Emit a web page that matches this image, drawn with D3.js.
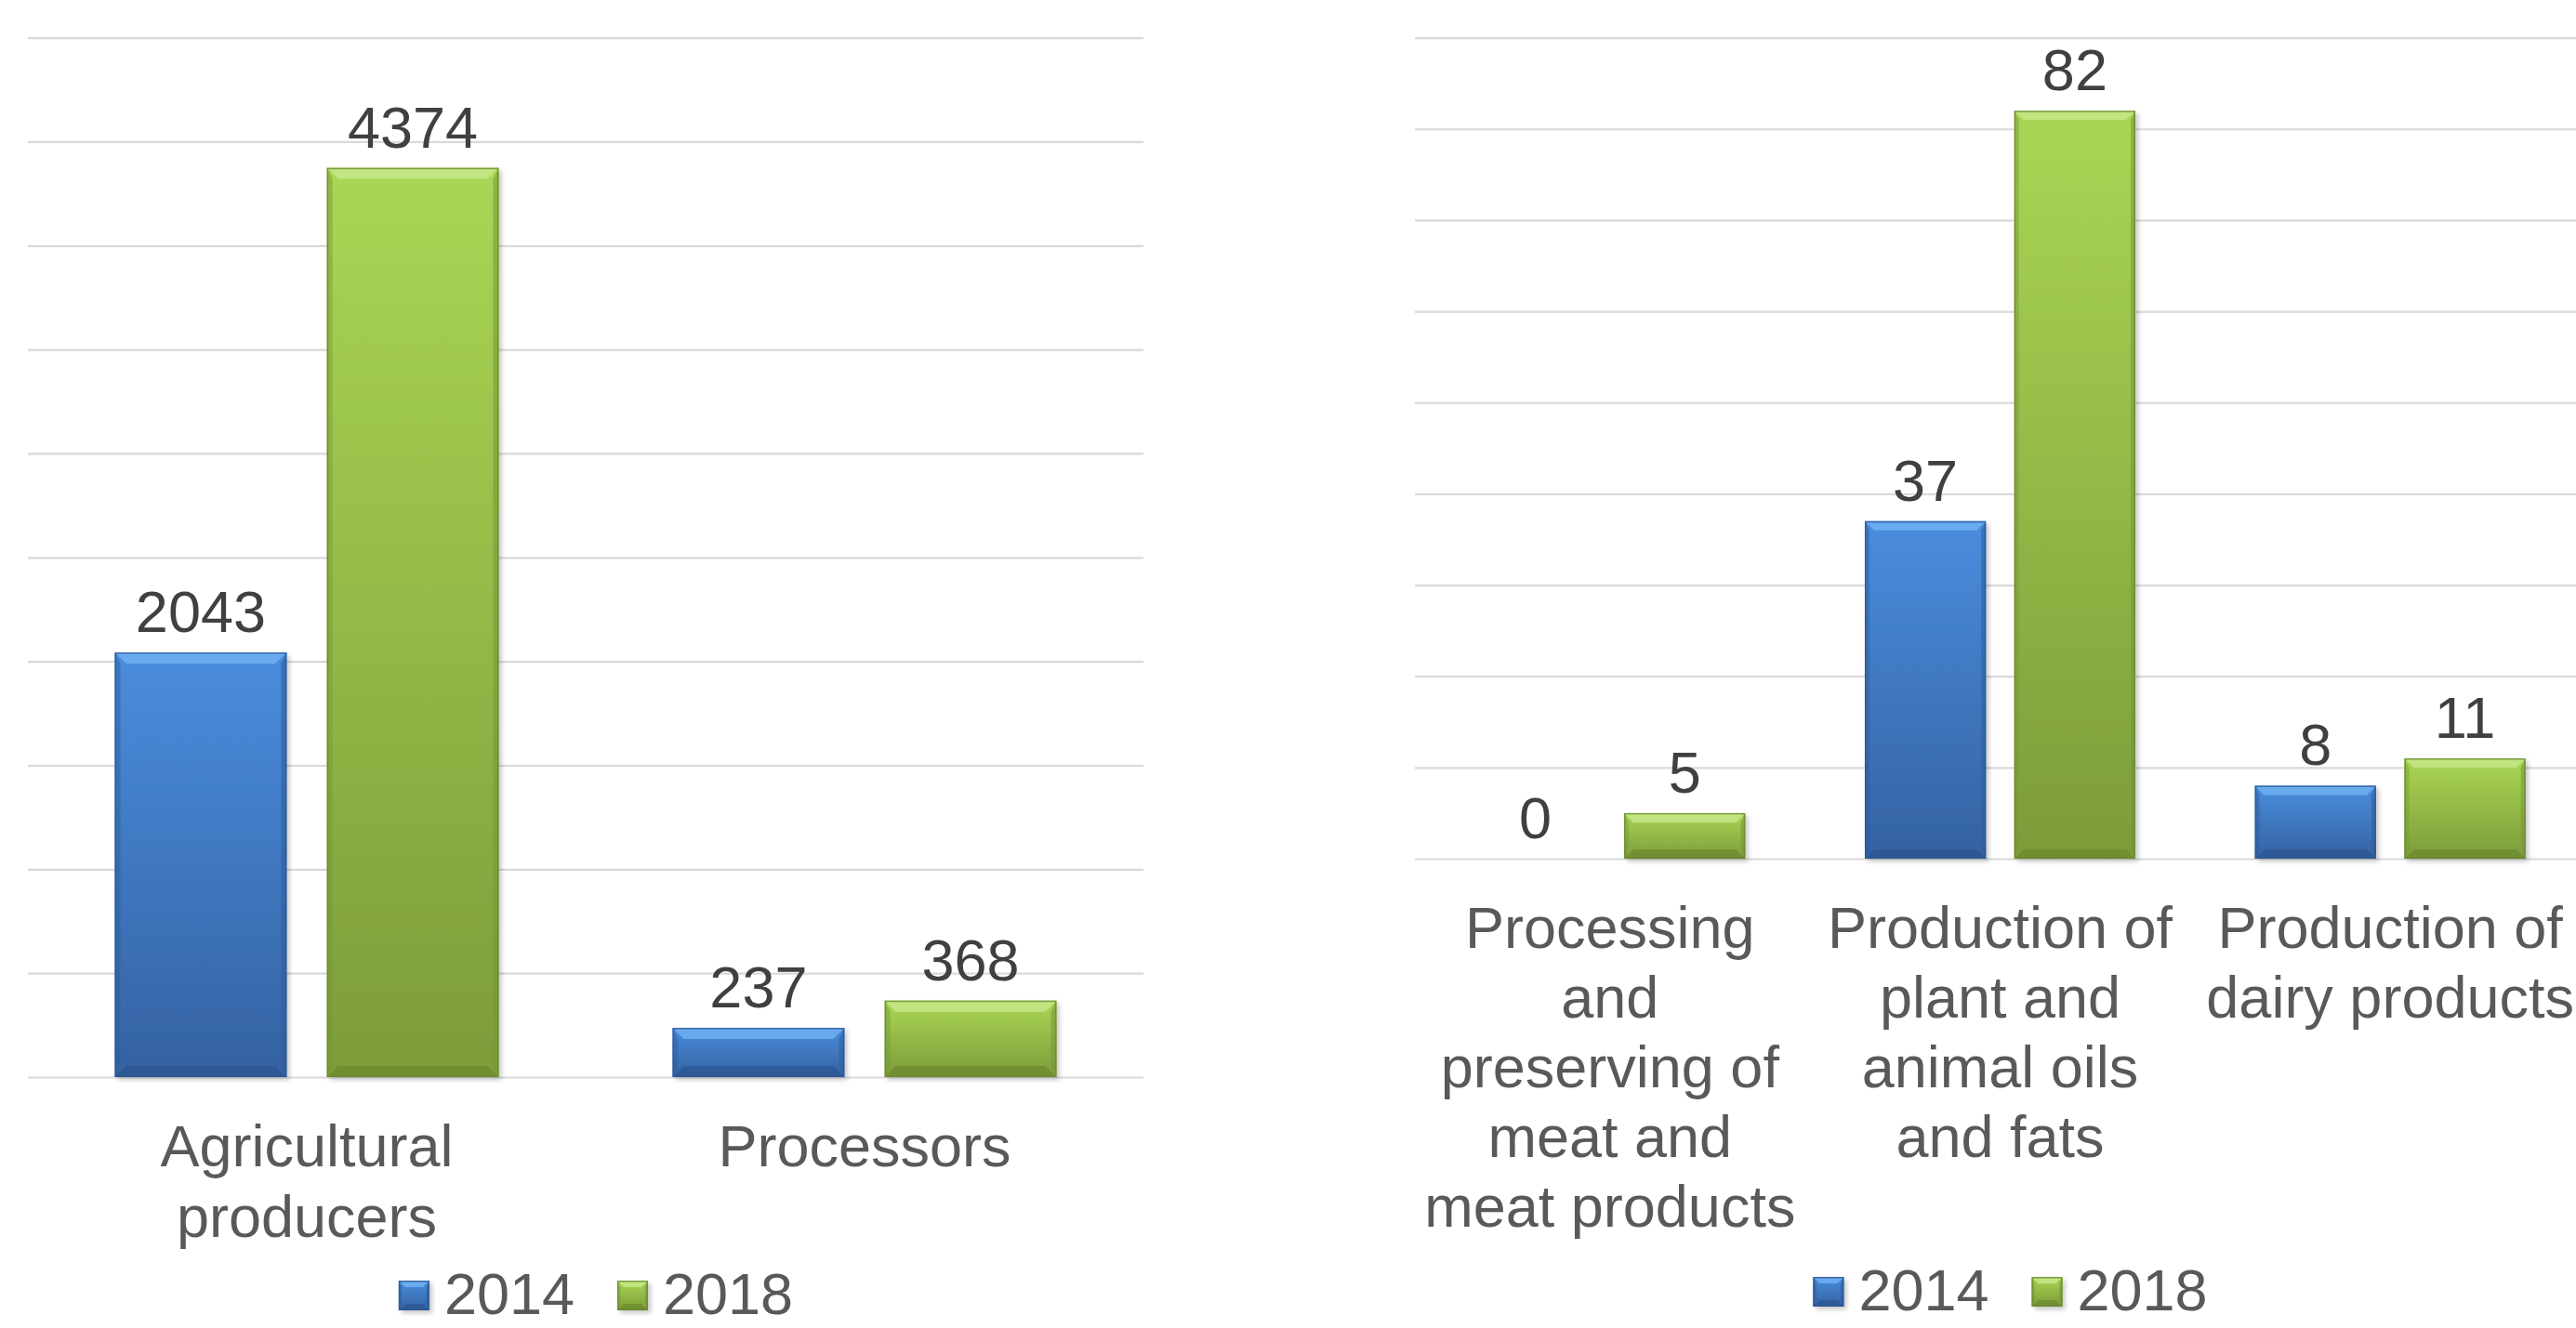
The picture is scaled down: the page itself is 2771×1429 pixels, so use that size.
<!DOCTYPE html>
<html>
<head>
<meta charset="utf-8">
<script src="https://cdn.jsdelivr.net/npm/d3@7"></script>
<style>
  html, body { margin: 0; padding: 0; background: #ffffff; }
  svg { display: block; }
  text { font-family: "Liberation Sans", Arial, sans-serif; }
</style>
</head>
<body>
<script>
// ---------------- DATA ----------------
const series = ["2014", "2018"];

const leftCategories = ["Agricultural\nproducers", "Processors"];
const left2014 = [2043, 237];
const left2018 = [4374, 368];
const leftTicks = [0, 500, 1000, 1500, 2000, 2500, 3000, 3500, 4000, 4500, 5000];

const rightCategories = [
  "Processing\nand\npreserving of\nmeat and\nmeat products",
  "Production of\nplant and\nanimal oils\nand fats",
  "Production of\ndairy products"
];
const right2014 = [0, 37, 8];
const right2018 = [5, 82, 11];
const rightTicks = [0, 10, 20, 30, 40, 50, 60, 70, 80, 90];

// ---------------- SETUP ----------------
const W = 2771, H = 1429;
const svg = d3.select("body").append("svg")
  .attr("width", W).attr("height", H)
  .attr("viewBox", `0 0 ${W} ${H}`);
svg.append("rect").attr("width", W).attr("height", H).attr("fill", "#ffffff");

const palettes = {
  "2014": { top: "#4a8ddd", bottom: "#3462a2", light: "#6fb0f2", dark: "#28508a", side: "#2f5c98", edge: "#2d5894" },
  "2018": { top: "#aad655", bottom: "#7c9c39", light: "#c6e888", dark: "#66822c", side: "#76963a", edge: "#6a8a2e" }
};

const defs = svg.append("defs");
Object.entries(palettes).forEach(([k, p]) => {
  const g = defs.append("linearGradient").attr("id", "grad" + k)
    .attr("x1", 0).attr("y1", 0).attr("x2", 0).attr("y2", 1);
  g.append("stop").attr("offset", "0%").attr("stop-color", p.top);
  g.append("stop").attr("offset", "100%").attr("stop-color", p.bottom);
});
const f = defs.append("filter").attr("id", "shadow")
  .attr("x", "-10%").attr("y", "-10%").attr("width", "130%").attr("height", "130%");
f.append("feDropShadow").attr("dx", 3).attr("dy", 3).attr("stdDeviation", 2.5)
  .attr("flood-color", "#000").attr("flood-opacity", 0.22);

function bevelBar(g, x, y, w, h, key, bevel) {
  const p = palettes[key];
  const bg = g.append("g");
  bg.append("rect").attr("x", x).attr("y", y).attr("width", w).attr("height", h)
    .attr("fill", `url(#grad${key})`).attr("filter", "url(#shadow)");
  const b = Math.min(bevel, h / 2, w / 2);
  const pts = arr => arr.map(q => q.join(",")).join(" ");
  bg.append("polygon").attr("points", pts([[x, y], [x + w, y], [x + w - b, y + b], [x + b, y + b]]))
    .attr("fill", p.light).attr("opacity", 0.85);
  bg.append("polygon").attr("points", pts([[x, y + h], [x + w, y + h], [x + w - b, y + h - b], [x + b, y + h - b]]))
    .attr("fill", p.dark).attr("opacity", 0.55);
  bg.append("polygon").attr("points", pts([[x, y], [x + b * 0.5, y + b], [x + b * 0.5, y + h - b], [x, y + h]]))
    .attr("fill", p.side).attr("opacity", 0.45);
  bg.append("polygon").attr("points", pts([[x + w, y], [x + w - b * 0.5, y + b], [x + w - b * 0.5, y + h - b], [x + w, y + h]]))
    .attr("fill", p.side).attr("opacity", 0.55);
  bg.append("rect").attr("x", x + 0.75).attr("y", y + 0.75).attr("width", Math.max(0, w - 1.5)).attr("height", Math.max(0, h - 1.5))
    .attr("fill", "none").attr("stroke", p.edge).attr("stroke-width", 1.5).attr("opacity", 0.8);
}

const FONT = 63;

function drawChart(cfg) {
  const g = svg.append("g");
  const y = d3.scaleLinear().domain(cfg.domain).range([cfg.baseY, cfg.topY]);
  const x0 = d3.scaleBand().domain(cfg.categories).range(cfg.xRange).paddingInner(0).paddingOuter(0);
  const x1 = d3.scaleBand().domain(series).range([0, x0.bandwidth()])
    .paddingInner(0.19).paddingOuter(cfg.outer);

  const axis = d3.axisLeft(y).tickValues(cfg.ticks).tickSize(-(cfg.xRange[1] - cfg.xRange[0])).tickFormat("");
  const ag = g.append("g").attr("transform", `translate(${cfg.xRange[0]},0)`).call(axis);
  ag.select(".domain").remove();
  ag.selectAll(".tick line").attr("stroke", "#d9d9d9").attr("stroke-width", 2.2);

  const vals = { "2014": cfg.v2014, "2018": cfg.v2018 };
  cfg.categories.forEach((c, i) => {
    series.forEach(s => {
      const v = vals[s][i];
      const bx = x0(c) + x1(s);
      const by = y(v);
      const bh = y(0) - y(v);
      if (bh > 0) bevelBar(g, bx, by, x1.bandwidth(), bh, s, cfg.bevel);
      g.append("text")
        .attr("x", bx + x1.bandwidth() / 2)
        .attr("y", by - 22)
        .attr("text-anchor", "middle")
        .attr("font-size", FONT)
        .attr("fill", "#404040")
        .text(v);
    });
    const lines = c.split("\n");
    const t = g.append("text")
      .attr("text-anchor", "middle")
      .attr("font-size", FONT)
      .attr("fill", "#595959");
    lines.forEach((ln, k) => {
      t.append("tspan")
        .attr("x", x0(c) + x0.bandwidth() / 2)
        .attr("y", cfg.baseY + 96 + k * cfg.lineH)
        .text(ln);
    });
  });

  // legend
  const sq = 33, gapSqText = 16, gapItems = 46;
  const textW = series.map(s => s.length * 0.556 * FONT);
  const total = series.reduce((a, s, i) => a + sq + gapSqText + textW[i] + (i < series.length - 1 ? gapItems : 0), 0);
  let lx = (cfg.xRange[0] + cfg.xRange[1]) / 2 + 11 - total / 2;
  series.forEach((s, i) => {
    bevelBar(g, lx, cfg.legendY - 36, sq, sq - 1, s, 7);
    g.append("text").attr("x", lx + sq + gapSqText).attr("y", cfg.legendY)
      .attr("font-size", FONT).attr("fill", "#595959").text(s);
    lx += sq + gapSqText + textW[i] + gapItems;
  });
}

drawChart({
  categories: leftCategories, v2014: left2014, v2018: left2018, ticks: leftTicks,
  domain: [0, 5000], baseY: 1159, topY: 40.6, xRange: [30, 1230],
  outer: 0.41, lineH: 76, legendY: 1414, bevel: 12
});

drawChart({
  categories: rightCategories, v2014: right2014, v2018: right2018, ticks: rightTicks,
  domain: [0, 90], baseY: 924, topY: 40.6, xRange: [1522, 2781],
  outer: 0.40, lineH: 75, legendY: 1410, bevel: 10
});
</script>
</body>
</html>
